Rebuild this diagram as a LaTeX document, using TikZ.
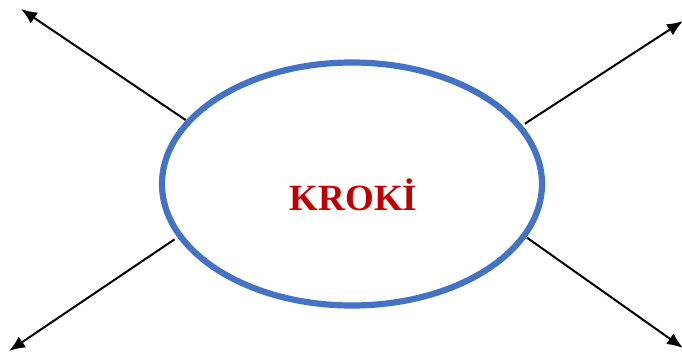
\documentclass[tikz,border=0pt]{standalone}
\usepackage{fontspec}
\setmainfont{Liberation Serif}
\usepackage{xcolor}
\definecolor{krokiblue}{HTML}{4472C4}
\definecolor{krokired}{HTML}{C00000}
\usetikzlibrary{arrows.meta}
\usetikzlibrary{shapes.geometric}

\begin{document}
\begin{tikzpicture}[x=1pt, y=1pt,
    ray/.style={-{Latex[length=16pt, width=13pt]}, line width=2pt}]

    \useasboundingbox (0, 0) rectangle (682, 354);

    \node [draw=krokiblue, line width=6.2pt, ellipse,
    minimum width=380pt, minimum height=243pt, inner sep=0pt]
    (kroki) at (352, 170) {};

    \node [anchor=base, text=krokired, font=\fontsize{37}{40}\selectfont\bfseries]
    (title) at (353.5, 144) {KROKİ};

    \coordinate (nw) at (21, 345);
    \coordinate (ne) at (683, 333);
    \coordinate (sw) at (9, 3);
    \coordinate (se) at (683, 6);

    \draw [ray, shorten <=0.5pt] (kroki.159) -- (nw);
    \draw [ray, shorten <=3pt] (kroki.19) -- (ne);
    \draw [ray, shorten <=3.5pt] (kroki.197) -- (sw);
    \draw [ray, shorten <=0.5pt] (kroki.343) -- (se);

  \end{tikzpicture}
\end{document}
